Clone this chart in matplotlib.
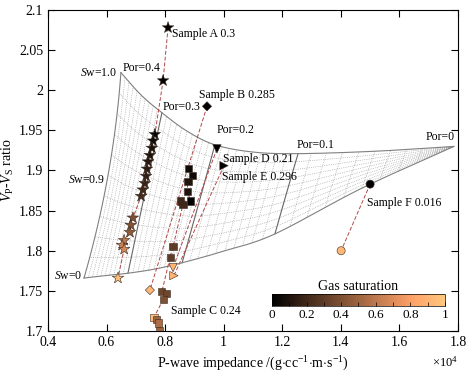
import numpy as np
import matplotlib
matplotlib.use('Agg')
import matplotlib.pyplot as plt
from matplotlib.ticker import MultipleLocator, FixedLocator

plt.rcParams['font.family'] = 'Liberation Serif'
plt.rcParams['mathtext.fontset'] = 'custom'
plt.rcParams['mathtext.rm'] = 'Liberation Serif'
plt.rcParams['mathtext.it'] = 'Liberation Serif:italic'

# Rock-physics template nodes (x in units of 1e4)
por_nodes = [0.0, 0.05, 0.10, 0.15, 0.20, 0.25, 0.30, 0.35, 0.40]
top_x = [1.786, 1.517, 1.254, 1.100, 0.970, 0.875, 0.789, 0.718, 0.649]   # Sw = 1
top_y = [1.930, 1.924, 1.921, 1.923, 1.932, 1.949, 1.972, 1.994, 2.022]
mid_x = [1.786, 1.494, 1.214, 1.052, 0.914, 0.818, 0.731, 0.663, 0.605]   # Sw = 0.5
mid_y = [1.930, 1.901, 1.871, 1.861, 1.858, 1.863, 1.872, 1.882, 1.894]
bot_x = [1.786, 1.472, 1.175, 1.004, 0.858, 0.762, 0.673, 0.595, 0.523]   # Sw = 0
bot_y = [1.930, 1.878, 1.821, 1.800, 1.785, 1.777, 1.772, 1.769, 1.766]

# Samples: impedance, Vp/Vs, gas saturation
a_x = [0.810, 0.793, 0.765, 0.759, 0.755, 0.748, 0.742, 0.738, 0.735, 0.731, 0.724, 0.718,
       0.690, 0.683, 0.680, 0.660, 0.653, 0.660, 0.639]
a_y = [2.078, 2.012, 1.945, 1.937, 1.928, 1.919, 1.911, 1.902, 1.893, 1.884, 1.876, 1.868,
       1.841, 1.832, 1.823, 1.813, 1.807, 1.802, 1.766]
a_sg = [0, 0, 0.03, 0.05, 0.08, 0.1, 0.12, 0.14, 0.16, 0.18, 0.2, 0.22,
        0.4, 0.42, 0.45, 0.6, 0.65, 0.68, 0.95]

b_x = [0.943, 0.748]
b_y = [1.980, 1.751]
b_sg = [0, 0.92]

c_x = [0.881, 0.892, 0.878, 0.875, 0.888, 0.854, 0.861, 0.827, 0.817, 0.789, 0.806, 0.793,
       0.762, 0.772, 0.776, 0.782]
c_y = [1.903, 1.894, 1.886, 1.874, 1.862, 1.862, 1.858, 1.805, 1.792, 1.749, 1.747, 1.739,
       1.717, 1.714, 1.710, 1.700]
c_sg = [0.05, 0.05, 0.1, 0.1, 0, 0.2, 0.2, 0.3, 0.3, 0.35, 0.35, 0.4,
        0.95, 0.5, 0.55, 0.5]

d_x = [0.977, 0.827]
d_y = [1.927, 1.779]
d_sg = [0, 0.9]

e_x = [1.001, 0.830]
e_y = [1.906, 1.769]
e_sg = [0, 0.9]

f_x = [1.500, 1.401]
f_y = [1.883, 1.800]
f_sg = [0, 0.92]


def smooth(p, vals):
    # Catmull-Rom through the porosity nodes
    v = np.asarray(vals, dtype=float)
    v = np.concatenate([[2 * v[0] - v[1]], v, [2 * v[-1] - v[-2]]])
    h = por_nodes[1] - por_nodes[0]
    p = np.asarray(p, dtype=float)
    i = np.clip(np.floor(p / h).astype(int), 0, len(vals) - 2)
    t = p / h - i
    p0, p1, p2, p3 = v[i], v[i + 1], v[i + 2], v[i + 3]
    return 0.5 * (2 * p1 + (-p0 + p2) * t + (2 * p0 - 5 * p1 + 4 * p2 - p3) * t ** 2
                  + (-p0 + 3 * p1 - 3 * p2 + p3) * t ** 3)


def template_point(p, s):
    tx, ty = smooth(p, top_x), smooth(p, top_y)
    mx, my = smooth(p, mid_x), smooth(p, mid_y)
    bx, by = smooth(p, bot_x), smooth(p, bot_y)
    l0 = 2 * (s - 0.5) * (s - 1)
    l5 = -4 * s * (s - 1)
    l1 = 2 * s * (s - 0.5)
    return l0 * bx + l5 * mx + l1 * tx, l0 * by + l5 * my + l1 * ty


fig = plt.figure(figsize=(4.77, 3.73), dpi=100)
ax = fig.add_axes([0.1006, 0.1126, 0.8595, 0.8606])

sw_fine = np.linspace(0, 1, 60)
por_fine = np.linspace(0, 0.4, 300)

# dotted mesh
for p in np.arange(0.01, 0.40, 0.01):
    if abs(p * 10 - round(p * 10)) < 1e-6:
        continue
    x, y = template_point(p, sw_fine)
    ax.plot(x, y, ':', color='#999999', lw=0.5, zorder=1)
for s in np.arange(0.1, 1.0, 0.1):
    x, y = template_point(por_fine, s)
    ax.plot(x, y, ':', color='#999999', lw=0.5, zorder=1)

# solid porosity lines and boundaries
for p in [0.1, 0.2, 0.3]:
    x, y = template_point(p, sw_fine)
    ax.plot(x, y, '-', color='#666666', lw=0.8, zorder=2)
x, y = template_point(0.4, sw_fine)
ax.plot(x, y, '-', color='#808080', lw=0.8, zorder=2)
for s in [0.0, 1.0]:
    x, y = template_point(por_fine, s)
    ax.plot(x, y, '-', color='#808080', lw=0.8, zorder=2)

# template labels
ax.text(0.636, 2.0215, '$S$w=1.0', ha='right', va='center', fontsize=8.5)
ax.text(0.595, 1.888, '$S$w=0.9', ha='right', va='center', fontsize=8.5)
ax.text(0.519, 1.7685, '$S$w=0', ha='right', va='center', fontsize=8.5)
ax.text(0.656, 2.0277, 'Por=0.4', ha='left', va='center', fontsize=8.5)
ax.text(0.793, 1.979, 'Por=0.3', ha='left', va='center', fontsize=8.5)
ax.text(0.977, 1.9505, 'Por=0.2', ha='left', va='center', fontsize=8.5)
ax.text(1.250, 1.932, 'Por=0.1', ha='left', va='center', fontsize=8.5)
ax.text(1.790, 1.9418, 'Por=0', ha='right', va='center', fontsize=8.5)

# samples
samples = [(a_x, a_y, a_sg, '*', 75), (b_x, b_y, b_sg, 'D', 22), (c_x, c_y, c_sg, 's', 26),
           (d_x, d_y, d_sg, 'v', 36), (e_x, e_y, e_sg, '>', 36), (f_x, f_y, f_sg, 'o', 34)]
for sx, sy, sg, mk, size in samples:
    order = np.argsort(sy)[::-1]
    ax.plot(np.array(sx)[order], np.array(sy)[order], '--', color='#b04848', lw=0.7,
            dashes=(4, 2), zorder=3)
    sc = ax.scatter(sx, sy, c=sg, cmap='copper', vmin=0, vmax=1, marker=mk, s=size,
                    edgecolors='#3a2a20', linewidths=0.4, zorder=4)

ax.text(0.823, 2.070, 'Sample A 0.3', ha='left', va='center', fontsize=8.5)
ax.text(0.916, 1.994, 'Sample B 0.285', ha='left', va='center', fontsize=8.5)
ax.text(0.820, 1.725, 'Sample C 0.24', ha='left', va='center', fontsize=8.5)
ax.text(0.998, 1.9143, 'Sample D 0.21', ha='left', va='center', fontsize=8.5)
ax.text(0.994, 1.892, 'Sample E 0.296', ha='left', va='center', fontsize=8.5)
ax.text(1.489, 1.8595, 'Sample F 0.016', ha='left', va='center', fontsize=8.5)

ax.set_xlim(0.4, 1.8)
ax.set_ylim(1.7, 2.1)
ax.xaxis.set_major_locator(FixedLocator([0.4, 0.6, 0.8, 1.0, 1.2, 1.4, 1.6, 1.8]))
ax.set_xticklabels(['0.4', '0.6', '0.8', '1', '1.2', '1.4', '1.6', '1.8'])
ax.yaxis.set_major_locator(FixedLocator([1.7, 1.75, 1.8, 1.85, 1.9, 1.95, 2.0, 2.05, 2.1]))
ax.set_yticklabels(['1.7', '1.75', '1.8', '1.85', '1.9', '1.95', '2', '2.05', '2.1'])
ax.tick_params(direction='in', top=True, right=True, length=5, width=0.8, labelsize=10)
for sp in ax.spines.values():
    sp.set_linewidth(0.8)

ax.set_xlabel('P-wave impedance /(g$\\cdot$cc$^{-1}$$\\cdot$m$\\cdot$s$^{-1}$)', fontsize=10, labelpad=4)
ax.set_ylabel('$V_\\mathrm{P}$-$V_\\mathrm{S}$ ratio', fontsize=10, labelpad=2)
ax.text(1.0, -0.075, '$\\times$10$^4$', transform=ax.transAxes, ha='right', va='top', fontsize=9)

# colorbar
cax = fig.add_axes([0.570, 0.1796, 0.363, 0.032])
cb = fig.colorbar(sc, cax=cax, orientation='horizontal')
cb.set_ticks([0, 0.2, 0.4, 0.6, 0.8, 1.0])
cb.set_ticklabels(['0', '0.2', '0.4', '0.6', '0.8', '1'])
cb.ax.xaxis.set_minor_locator(MultipleLocator(0.1))
cb.ax.tick_params(which='both', direction='in', length=3, width=0.5, labelsize=9.5, pad=2)
cb.outline.set_linewidth(0.5)
cax.set_title('Gas saturation', fontsize=10, pad=3)

fig.savefig('out.png', dpi=100)
